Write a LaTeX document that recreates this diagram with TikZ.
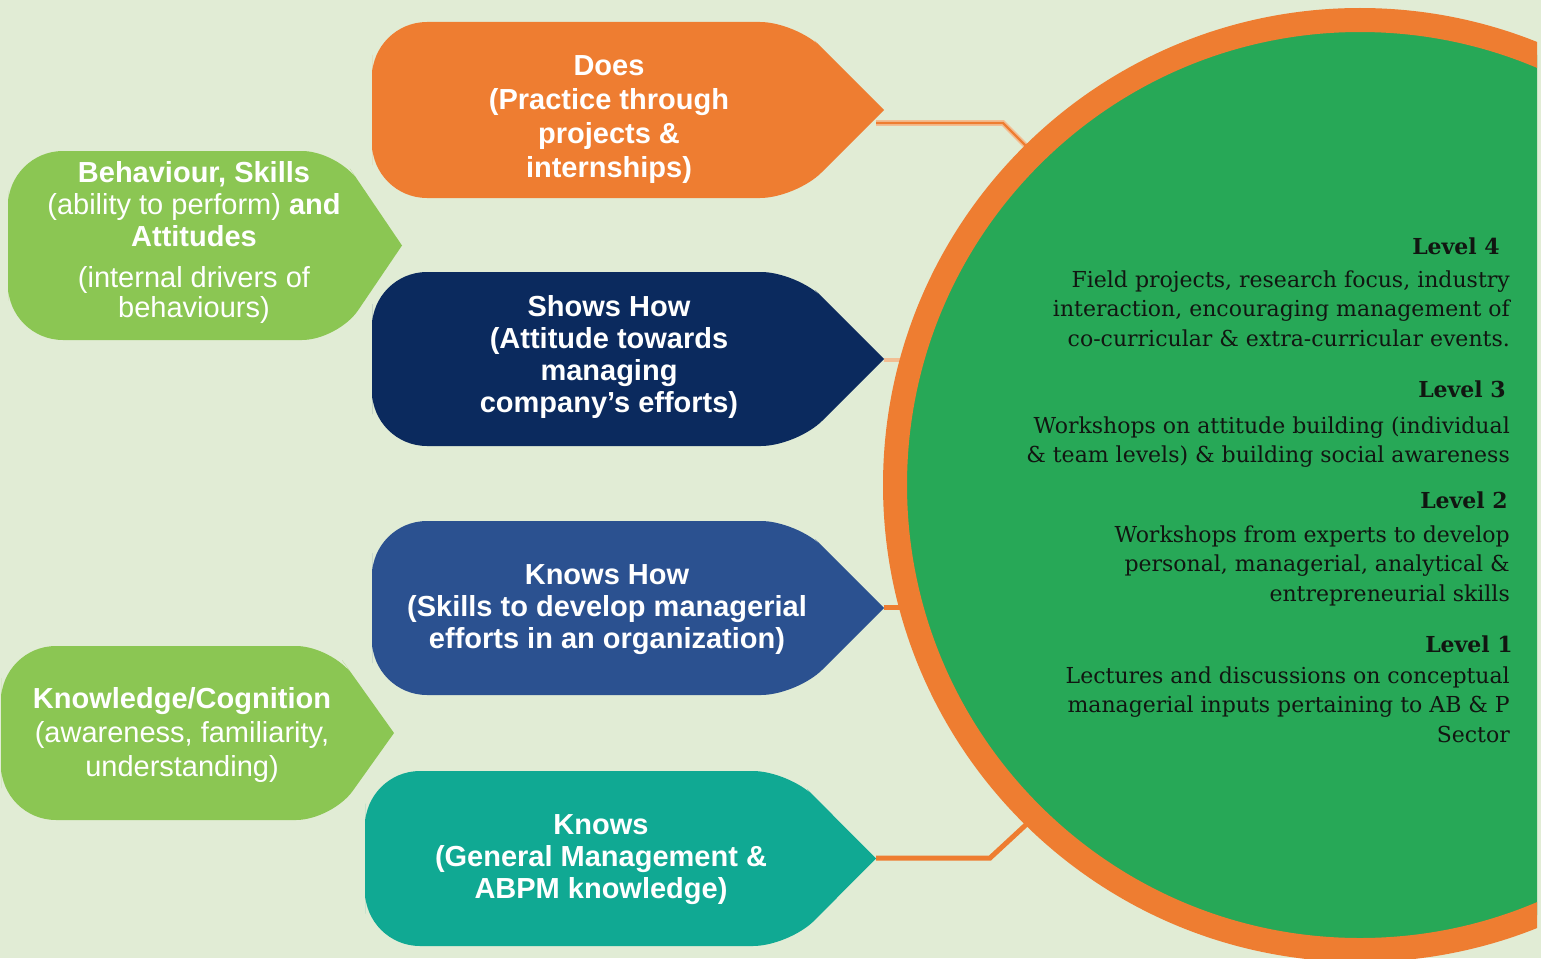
\documentclass[tikz,border=0pt]{standalone}
\usepackage{fontspec}
\setsansfont{Liberation Sans}
\newfontfamily\levelfont{DejaVu Serif}

\definecolor{paper}{HTML}{E1ECD5}
\definecolor{ringorange}{HTML}{EE7D31}
\definecolor{ringgreen}{HTML}{27A857}
\definecolor{peach}{HTML}{F2BE93}
\definecolor{doescol}{HTML}{EE7D31}
\definecolor{showscol}{HTML}{0B2A5E}
\definecolor{knowshowcol}{HTML}{2B5190}
\definecolor{knowscol}{HTML}{10A993}
\definecolor{leafgreen}{HTML}{8BC653}
\definecolor{ink}{HTML}{111611}

% arrow-like tag: #1 name, #2 colour, #3 left, #4 top, #5 bottom, #6 tip x, #7 shoulder x
\newcommand{\tagshape}[7]{%
  \pgfmathsetmacro{\tagmid}{(#4+#5)/2}%
  \fill[#2] (#3,\tagmid) [rounded corners=55pt] -- (#3,#4) -- ({(#3+#7)/2},#4)
    [rounded corners=36pt] -- (#7,#4) -- ({(#7+#6)/2},{(#4+\tagmid)/2})
    [sharp corners] -- (#6,\tagmid) -- ({(#7+#6)/2},{(#5+\tagmid)/2})
    [rounded corners=36pt] -- (#7,#5) -- ({(#3+#7)/2},#5)
    [rounded corners=55pt] -- (#3,#5) -- cycle;
  \coordinate (#1-tip) at (#6,\tagmid);%
}

% multi-line nodes sit on the baseline of their last line
\tikzset{
  tagtext/.style={text=white, align=center, anchor=base, inner sep=0pt,
    font=\sffamily\bfseries\fontsize{29}{34}\selectfont},
  sidetext/.style={tagtext, font=\sffamily\fontsize{29}{32}\selectfont},
  levelhead/.style={text=ink, anchor=base east, inner sep=0pt,
    font=\levelfont\bfseries\fontsize{22}{29.5}\selectfont},
  levelbody/.style={text=ink, align=right, anchor=base east, inner sep=0pt,
    font=\levelfont\fontsize{22}{29.5}\selectfont},
  link/.style={draw=ringorange, line width=5pt},
  softlink/.style={draw=peach, line width=1.6pt, double=ringorange, double distance=2.4pt},
  paleline/.style={draw=peach, line width=4pt}
}

\begin{document}
\begin{tikzpicture}[x=1pt, y=-1pt]

\fill[paper] (0,0) rectangle (1541,958);
\useasboundingbox (0,0) rectangle (1541,958);

% links from the tags to the ring
\coordinate (does-out) at (876,123);
\coordinate (does-bend) at (1003,123);
\coordinate (ring-does) at (1026,146);
\coordinate (ring-shows) at (902,360);
\coordinate (ring-knowshow) at (902,607);
\coordinate (knows-bend) at (990,858);
\coordinate (ring-knows) at (1030,821);
\draw[softlink] (does-out) -- (does-bend) -- (ring-does); % does
\draw[paleline] (884,360) -- (ring-shows); % shows how
\draw[link] (884,607) -- (ring-knowshow); % knows how
\draw[link] (876,858) -- (knows-bend) -- (ring-knows); % knows

% the levels ring
\begin{scope}
\clip (0,0) rectangle (1537,958);
\node[circle, fill=ringgreen, draw=ringorange, line width=24pt,
  minimum size=930pt, inner sep=0pt] (levels) at (1360,485) {};
\end{scope}

% tags
\tagshape{does}{doescol}{372}{22}{198}{884}{796}
\tagshape{shows}{showscol}{372}{272}{446}{884}{797}
\tagshape{knowshow}{knowshowcol}{372}{521}{695}{884}{797}
\tagshape{knows}{knowscol}{365}{771}{946}{876}{789}
\tagshape{behaviour}{leafgreen}{8}{151}{340}{402}{338}
\tagshape{knowledge}{leafgreen}{1}{646}{820}{394}{332}

\node[tagtext] (does) at (609,177) {Does\\(Practice through\\projects \&\\internships)};
\node[tagtext, font=\sffamily\bfseries\fontsize{29}{32}\selectfont] (shows) at (609,412)
  {Shows How\\(Attitude towards\\managing\\company’s efforts)};
\node[tagtext, font=\sffamily\bfseries\fontsize{29}{32}\selectfont] (knowshow) at (607,648)
  {Knows How\\(Skills to develop managerial\\efforts in an organization)};
\node[tagtext, font=\sffamily\bfseries\fontsize{29}{32}\selectfont] (knows) at (601,898)
  {Knows\\(General Management \&\\ABPM knowledge)};
\node[sidetext] (behaviour) at (194,246)
  {\textbf{Behaviour, Skills}\\(ability to perform) \textbf{and}\\\textbf{Attitudes}};
\node[sidetext, font=\sffamily\fontsize{29}{30}\selectfont] (drivers) at (194,317)
  {(internal drivers of\\behaviours)};
\node[sidetext, font=\sffamily\fontsize{29}{34}\selectfont] (knowledge) at (182,776)
  {\textbf{Knowledge/Cognition}\\(awareness, familiarity,\\understanding)};

% level texts inside the ring
\node[levelhead] (lvl4) at (1500,254) {Level 4};
\node[levelbody] (lvl4-text) at (1510,346)
  {Field projects, research focus, industry\\interaction, encouraging management of\\co-curricular \& extra-curricular events.};
\node[levelhead] (lvl3) at (1506,397) {Level 3};
\node[levelbody, font=\levelfont\fontsize{22}{29}\selectfont] (lvl3-text) at (1510,462)
  {Workshops on attitude building (individual\\\& team levels) \& building social awareness};
\node[levelhead] (lvl2) at (1508,508) {Level 2};
\node[levelbody] (lvl2-text) at (1510,601)
  {Workshops from experts to develop\\personal, managerial, analytical \&\\entrepreneurial skills};
\node[levelhead] (lvl1) at (1513,652) {Level 1};
\node[levelbody] (lvl1-text) at (1510,742)
  {Lectures and discussions on conceptual\\managerial inputs pertaining to AB \& P\\Sector};

\end{tikzpicture}
\end{document}
